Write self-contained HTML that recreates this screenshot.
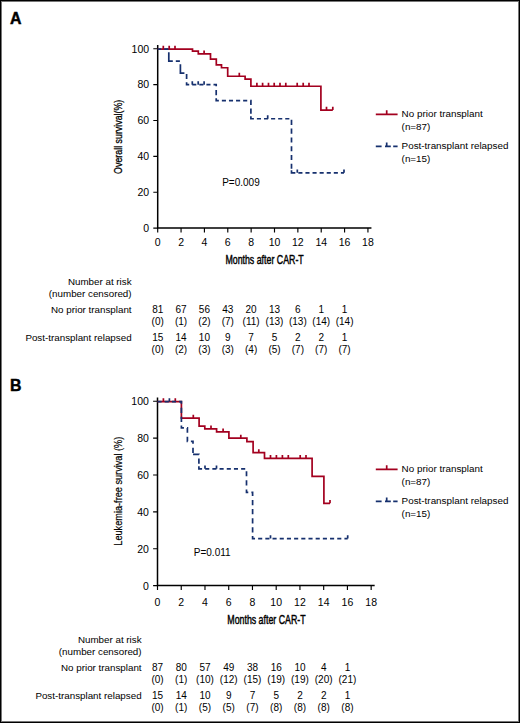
<!DOCTYPE html>
<html><head><meta charset="utf-8"><style>
html,body{margin:0;padding:0;background:#fff;}
svg{display:block;}
text{font-family:"Liberation Sans", sans-serif;fill:#000;}
.ct{stroke:#000;stroke-width:0.45px;}
</style></head><body>
<svg width="520" height="723" viewBox="0 0 520 723">
<rect x="0" y="0" width="520" height="723" fill="#fff"/>
<path d="M157.7,45 V228.1 H371.44" fill="none" stroke="#000" stroke-width="1.5"/>
<path d="M153.3,228.1 H157.7M153.3,192.22 H157.7M153.3,156.34 H157.7M153.3,120.46 H157.7M153.3,84.58 H157.7M153.3,48.7 H157.7M157.7,228.1 V232.5M181.06,228.1 V232.5M204.42,228.1 V232.5M227.78,228.1 V232.5M251.14,228.1 V232.5M274.5,228.1 V232.5M297.86,228.1 V232.5M321.22,228.1 V232.5M344.58,228.1 V232.5M367.94,228.1 V232.5" fill="none" stroke="#000" stroke-width="1.15"/>
<text x="149.1" y="232" text-anchor="end" font-size="10.5">0</text>
<text x="149.1" y="196.12" text-anchor="end" font-size="10.5">20</text>
<text x="149.1" y="160.24" text-anchor="end" font-size="10.5">40</text>
<text x="149.1" y="124.36" text-anchor="end" font-size="10.5">60</text>
<text x="149.1" y="88.48" text-anchor="end" font-size="10.5">80</text>
<text x="149.1" y="52.6" text-anchor="end" font-size="10.5">100</text>
<text x="157.7" y="246.2" text-anchor="middle" font-size="10.5">0</text>
<text x="181.06" y="246.2" text-anchor="middle" font-size="10.5">2</text>
<text x="204.42" y="246.2" text-anchor="middle" font-size="10.5">4</text>
<text x="227.78" y="246.2" text-anchor="middle" font-size="10.5">6</text>
<text x="251.14" y="246.2" text-anchor="middle" font-size="10.5">8</text>
<text x="274.5" y="246.2" text-anchor="middle" font-size="10.5">10</text>
<text x="297.86" y="246.2" text-anchor="middle" font-size="10.5">12</text>
<text x="321.22" y="246.2" text-anchor="middle" font-size="10.5">14</text>
<text x="344.58" y="246.2" text-anchor="middle" font-size="10.5">16</text>
<text x="367.94" y="246.2" text-anchor="middle" font-size="10.5">18</text>
<text x="225.4" y="264.2" font-size="12.4" textLength="78.3" lengthAdjust="spacingAndGlyphs" class="ct">Months after CAR-T</text>
<text transform="translate(122.1,136.8) rotate(-90)" x="0" y="0" text-anchor="middle" font-size="11.8" textLength="74.2" lengthAdjust="spacingAndGlyphs" stroke="#000" stroke-width="0.3">Overall survival(%)</text>
<g transform="translate(0,0.35)">
<path d="M157.7,48.7 L192.5,48.7 L192.5,50.7 L198.3,50.7 L198.3,53.6 L210.5,53.6 L210.5,58.7 L216.3,58.7 L216.3,64.5 L221.5,64.5 L221.5,67.4 L227.7,67.4 L227.7,75.9 L245.1,75.9 L245.1,78.8 L250.9,78.8 L250.9,85.9 L320.9,85.9 L320.9,109.7 L332.8,109.7" fill="none" stroke="#a3001f" stroke-width="1.7" stroke-linejoin="miter" stroke-linecap="butt"/>
<path d="M163.3,48.7 V45.3M169.2,48.7 V45.3M175,48.7 V45.3M204.1,53.6 V50.2M239.3,75.9 V72.5M256.9,85.9 V82.5M262.6,85.9 V82.5M268.5,85.9 V82.5M274.2,85.9 V82.5M280,85.9 V82.5M285.8,85.9 V82.5M297.2,85.9 V82.5M303.2,85.9 V82.5M309,85.9 V82.5M326.5,109.7 V106.3M332.8,109.7 V106.3" fill="none" stroke="#a3001f" stroke-width="1.7"/>
<path d="M157.7,48.7 L161.22,48.7M164.21,48.7 L168.31,48.7M168.8,51.8 L168.8,60.7 L172.81,60.7M175.8,60.7 L179.9,60.7M180.4,63.79 L180.4,72.7 L184.41,72.7M186.6,73.69 L186.6,78.77M186.6,81.82 L186.6,84.3 L189.23,84.3M192.22,84.3 L196.32,84.3M199.31,84.3 L203.41,84.3M206.4,84.3 L210.5,84.3M213.49,84.3 L216.2,84.3 L216.2,86.02M216.2,89.73 L216.2,94.82M216.2,97.82 L216.2,100.3 L218.87,100.3M221.86,100.3 L225.96,100.3M228.95,100.3 L233.05,100.3M236.04,100.3 L240.14,100.3M243.13,100.3 L247.23,100.3M250.22,100.3 L250.9,100.3 L250.9,104.54M250.9,108.24 L250.9,113.33M250.9,115.92 L250.9,118.4 L253.9,118.4M256.89,118.4 L260.99,118.4M263.98,118.4 L268.08,118.4M271.07,118.4 L275.17,118.4M278.16,118.4 L282.26,118.4M285.25,118.4 L289.35,118.4M291.5,119.44 L291.5,124.53M291.5,128.23 L291.5,133.32M291.5,137.03 L291.5,142.11M291.5,145.82 L291.5,150.9M291.5,154.61 L291.5,159.69M291.5,163.4 L291.5,168.48M291.5,170.02 L291.5,172.5 L295.35,172.5M298.34,172.5 L302.44,172.5M305.43,172.5 L309.53,172.5M312.52,172.5 L316.62,172.5M319.61,172.5 L323.71,172.5M326.7,172.5 L330.8,172.5M333.79,172.5 L337.89,172.5M340.88,172.5 L344,172.5" fill="none" stroke="#16306e" stroke-width="1.7" stroke-linejoin="miter"/>
<path d="M192.3,84.3 V80.9M198.2,84.3 V80.9M204.1,84.3 V80.9M267.7,118.4 V115M297.3,172.5 V169.1M344,172.5 V169.1" fill="none" stroke="#16306e" stroke-width="1.7"/>
</g>
<text x="222.2" y="185.7" font-size="10">P=0.009</text>
<path transform="translate(0,0.35)" d="M375.8,114 H397.6 M386.7,114 V109.8" fill="none" stroke="#a3001f" stroke-width="1.7"/>
<path transform="translate(0,0.35)" d="M375.8,146 H381.6 M385,146 H390.8 M393.2,146 H397.6 M386.7,146 V142.2" fill="none" stroke="#16306e" stroke-width="1.7"/>
<text x="401.6" y="117.4" font-size="9.87">No prior transplant</text>
<text x="401.6" y="129.6" font-size="9.87">(n=87)</text>
<text x="401.6" y="149.4" font-size="9.87">Post-transplant relapsed</text>
<text x="401.6" y="161.5" font-size="9.87">(n=15)</text>
<text x="10" y="23.7" font-size="15.9" font-weight="bold" stroke="#000" stroke-width="0.45" fill="#000">A</text>
<text x="131.6" y="285" text-anchor="end" font-size="9.8">Number at risk</text>
<text x="131.6" y="297" text-anchor="end" font-size="9.8">(number censored)</text>
<text x="131.6" y="312.6" text-anchor="end" font-size="9.8">No prior transplant</text>
<text x="131.6" y="340.7" text-anchor="end" font-size="9.8">Post-transplant relapsed</text>
<text x="157.7" y="313" text-anchor="middle" font-size="10">81</text>
<text x="181.06" y="313" text-anchor="middle" font-size="10">67</text>
<text x="204.42" y="313" text-anchor="middle" font-size="10">56</text>
<text x="227.78" y="313" text-anchor="middle" font-size="10">43</text>
<text x="251.14" y="313" text-anchor="middle" font-size="10">20</text>
<text x="274.5" y="313" text-anchor="middle" font-size="10">13</text>
<text x="297.86" y="313" text-anchor="middle" font-size="10">6</text>
<text x="321.22" y="313" text-anchor="middle" font-size="10">1</text>
<text x="344.58" y="313" text-anchor="middle" font-size="10">1</text>
<text x="157.7" y="325.3" text-anchor="middle" font-size="10">(0)</text>
<text x="181.06" y="325.3" text-anchor="middle" font-size="10">(1)</text>
<text x="204.42" y="325.3" text-anchor="middle" font-size="10">(2)</text>
<text x="227.78" y="325.3" text-anchor="middle" font-size="10">(7)</text>
<text x="251.14" y="325.3" text-anchor="middle" font-size="10">(11)</text>
<text x="274.5" y="325.3" text-anchor="middle" font-size="10">(13)</text>
<text x="297.86" y="325.3" text-anchor="middle" font-size="10">(13)</text>
<text x="321.22" y="325.3" text-anchor="middle" font-size="10">(14)</text>
<text x="344.58" y="325.3" text-anchor="middle" font-size="10">(14)</text>
<text x="157.7" y="340.8" text-anchor="middle" font-size="10">15</text>
<text x="181.06" y="340.8" text-anchor="middle" font-size="10">14</text>
<text x="204.42" y="340.8" text-anchor="middle" font-size="10">10</text>
<text x="227.78" y="340.8" text-anchor="middle" font-size="10">9</text>
<text x="251.14" y="340.8" text-anchor="middle" font-size="10">7</text>
<text x="274.5" y="340.8" text-anchor="middle" font-size="10">5</text>
<text x="297.86" y="340.8" text-anchor="middle" font-size="10">2</text>
<text x="321.22" y="340.8" text-anchor="middle" font-size="10">2</text>
<text x="344.58" y="340.8" text-anchor="middle" font-size="10">1</text>
<text x="157.7" y="353.1" text-anchor="middle" font-size="10">(0)</text>
<text x="181.06" y="353.1" text-anchor="middle" font-size="10">(2)</text>
<text x="204.42" y="353.1" text-anchor="middle" font-size="10">(3)</text>
<text x="227.78" y="353.1" text-anchor="middle" font-size="10">(3)</text>
<text x="251.14" y="353.1" text-anchor="middle" font-size="10">(4)</text>
<text x="274.5" y="353.1" text-anchor="middle" font-size="10">(5)</text>
<text x="297.86" y="353.1" text-anchor="middle" font-size="10">(7)</text>
<text x="321.22" y="353.1" text-anchor="middle" font-size="10">(7)</text>
<text x="344.58" y="353.1" text-anchor="middle" font-size="10">(7)</text>
<path d="M157.5,397.5 V585.6 H374.66" fill="none" stroke="#000" stroke-width="1.5"/>
<path d="M153.1,585.6 H157.5M153.1,548.72 H157.5M153.1,511.84 H157.5M153.1,474.96 H157.5M153.1,438.08 H157.5M153.1,401.2 H157.5M157.5,585.6 V590M181.24,585.6 V590M204.98,585.6 V590M228.72,585.6 V590M252.46,585.6 V590M276.2,585.6 V590M299.94,585.6 V590M323.68,585.6 V590M347.42,585.6 V590M371.16,585.6 V590" fill="none" stroke="#000" stroke-width="1.15"/>
<text x="148.9" y="589.5" text-anchor="end" font-size="10.5">0</text>
<text x="148.9" y="552.62" text-anchor="end" font-size="10.5">20</text>
<text x="148.9" y="515.74" text-anchor="end" font-size="10.5">40</text>
<text x="148.9" y="478.86" text-anchor="end" font-size="10.5">60</text>
<text x="148.9" y="441.98" text-anchor="end" font-size="10.5">80</text>
<text x="148.9" y="405.1" text-anchor="end" font-size="10.5">100</text>
<text x="157.5" y="605.9" text-anchor="middle" font-size="10.5">0</text>
<text x="181.24" y="605.9" text-anchor="middle" font-size="10.5">2</text>
<text x="204.98" y="605.9" text-anchor="middle" font-size="10.5">4</text>
<text x="228.72" y="605.9" text-anchor="middle" font-size="10.5">6</text>
<text x="252.46" y="605.9" text-anchor="middle" font-size="10.5">8</text>
<text x="276.2" y="605.9" text-anchor="middle" font-size="10.5">10</text>
<text x="299.94" y="605.9" text-anchor="middle" font-size="10.5">12</text>
<text x="323.68" y="605.9" text-anchor="middle" font-size="10.5">14</text>
<text x="347.42" y="605.9" text-anchor="middle" font-size="10.5">16</text>
<text x="371.16" y="605.9" text-anchor="middle" font-size="10.5">18</text>
<text x="227.3" y="623.8" font-size="12.4" textLength="78.3" lengthAdjust="spacingAndGlyphs" class="ct">Months after CAR-T</text>
<text transform="translate(122.3,491.2) rotate(-90)" x="0" y="0" text-anchor="middle" font-size="11.8" textLength="109" lengthAdjust="spacingAndGlyphs" stroke="#000" stroke-width="0.2">Leukemia-free survival (%)</text>
<g transform="translate(0,0.35)">
<path d="M157.5,401.2 L181.4,401.2 L181.4,417.7 L199.1,417.7 L199.1,425.8 L204.8,425.8 L204.8,428.5 L216.6,428.5 L216.6,431.5 L228.9,431.5 L228.9,437.8 L246.9,437.8 L246.9,441.2 L253.1,441.2 L253.1,452.3 L264.5,452.3 L264.5,458 L312.1,458 L312.1,476 L323.9,476 L323.9,503 L330,503" fill="none" stroke="#a3001f" stroke-width="1.7" stroke-linejoin="miter" stroke-linecap="butt"/>
<path d="M163.4,401.2 V397.8M175.3,401.2 V397.8M193.3,417.7 V414.3M211,428.5 V425.1M223.1,431.5 V428.1M240.8,437.8 V434.4M258.8,452.3 V448.9M270.5,458 V454.6M276.4,458 V454.6M282.4,458 V454.6M288.3,458 V454.6M300.2,458 V454.6M306,458 V454.6M330,503 V499.6" fill="none" stroke="#a3001f" stroke-width="1.7"/>
<path d="M157.5,401.2 L161.6,401.2M164.69,401.2 L168.79,401.2M171.88,401.2 L175.98,401.2M179.07,401.2 L181.4,401.2 L181.4,403.45M181.4,407.37 L181.4,412.58M181.4,416.5 L181.4,421.71M181.4,425.06 L181.4,427.6 L183.95,427.6M187.04,427.6 L187.4,427.6 L187.4,432.35M187.4,436.28 L187.4,441 L187.78,441M190.87,441 L193,441 L193,443.5M193,447.43 L193,452.63M193.05,454.1 L198.9,454.1 L198.9,454.27M198.9,458.2 L198.9,463.4M198.9,465.96 L198.9,468.5 L202.08,468.5M205.17,468.5 L209.27,468.5M212.36,468.5 L216.46,468.5M219.55,468.5 L223.65,468.5M226.74,468.5 L230.84,468.5M233.93,468.5 L238.03,468.5M241.12,468.5 L245.22,468.5M246.5,470.8 L246.5,476M246.5,479.93 L246.5,485.13M246.5,489.06 L246.5,492 L248.28,492M251.37,492 L252.6,492 L252.6,495.65M252.6,499.57 L252.6,504.78M252.6,508.71 L252.6,513.91M252.6,517.84 L252.6,523.04M252.6,526.97 L252.6,532.18M252.6,535.66 L252.6,538.2 L255.05,538.2M258.14,538.2 L262.24,538.2M265.33,538.2 L269.43,538.2M272.52,538.2 L276.62,538.2M279.71,538.2 L283.81,538.2M286.9,538.2 L291,538.2M294.09,538.2 L298.19,538.2M301.28,538.2 L305.38,538.2M308.47,538.2 L312.57,538.2M315.66,538.2 L319.76,538.2M322.85,538.2 L326.95,538.2M330.04,538.2 L334.14,538.2M337.23,538.2 L341.33,538.2M344.42,538.2 L347.7,538.2" fill="none" stroke="#16306e" stroke-width="1.7" stroke-linejoin="miter"/>
<path d="M169.4,401.2 V397.8M205,468.5 V465.1M216.5,468.5 V465.1M270.5,538.2 V534.8M347.7,538.2 V534.8" fill="none" stroke="#16306e" stroke-width="1.7"/>
</g>
<text x="193.8" y="555.8" font-size="10">P=0.011</text>
<path transform="translate(0,0.35)" d="M375.8,469 H397.6 M386.7,469 V464.8" fill="none" stroke="#a3001f" stroke-width="1.7"/>
<path transform="translate(0,0.35)" d="M375.8,501 H381.6 M385,501 H390.8 M393.2,501 H397.6 M386.7,501 V497.2" fill="none" stroke="#16306e" stroke-width="1.7"/>
<text x="401.6" y="472.4" font-size="9.87">No prior transplant</text>
<text x="401.6" y="484.6" font-size="9.87">(n=87)</text>
<text x="401.6" y="504.4" font-size="9.87">Post-transplant relapsed</text>
<text x="401.6" y="516.5" font-size="9.87">(n=15)</text>
<text x="10.1" y="390.6" font-size="15.9" font-weight="bold" stroke="#000" stroke-width="0.45" fill="#000">B</text>
<text x="141.6" y="643" text-anchor="end" font-size="9.8">Number at risk</text>
<text x="141.6" y="655" text-anchor="end" font-size="9.8">(number censored)</text>
<text x="141.6" y="670.6" text-anchor="end" font-size="9.8">No prior transplant</text>
<text x="141.6" y="698.7" text-anchor="end" font-size="9.8">Post-transplant relapsed</text>
<text x="157.5" y="671" text-anchor="middle" font-size="10">87</text>
<text x="181.24" y="671" text-anchor="middle" font-size="10">80</text>
<text x="204.98" y="671" text-anchor="middle" font-size="10">57</text>
<text x="228.72" y="671" text-anchor="middle" font-size="10">49</text>
<text x="252.46" y="671" text-anchor="middle" font-size="10">38</text>
<text x="276.2" y="671" text-anchor="middle" font-size="10">16</text>
<text x="299.94" y="671" text-anchor="middle" font-size="10">10</text>
<text x="323.68" y="671" text-anchor="middle" font-size="10">4</text>
<text x="347.42" y="671" text-anchor="middle" font-size="10">1</text>
<text x="157.5" y="683.3" text-anchor="middle" font-size="10">(0)</text>
<text x="181.24" y="683.3" text-anchor="middle" font-size="10">(1)</text>
<text x="204.98" y="683.3" text-anchor="middle" font-size="10">(10)</text>
<text x="228.72" y="683.3" text-anchor="middle" font-size="10">(12)</text>
<text x="252.46" y="683.3" text-anchor="middle" font-size="10">(15)</text>
<text x="276.2" y="683.3" text-anchor="middle" font-size="10">(19)</text>
<text x="299.94" y="683.3" text-anchor="middle" font-size="10">(19)</text>
<text x="323.68" y="683.3" text-anchor="middle" font-size="10">(20)</text>
<text x="347.42" y="683.3" text-anchor="middle" font-size="10">(21)</text>
<text x="157.5" y="698.8" text-anchor="middle" font-size="10">15</text>
<text x="181.24" y="698.8" text-anchor="middle" font-size="10">14</text>
<text x="204.98" y="698.8" text-anchor="middle" font-size="10">10</text>
<text x="228.72" y="698.8" text-anchor="middle" font-size="10">9</text>
<text x="252.46" y="698.8" text-anchor="middle" font-size="10">7</text>
<text x="276.2" y="698.8" text-anchor="middle" font-size="10">5</text>
<text x="299.94" y="698.8" text-anchor="middle" font-size="10">2</text>
<text x="323.68" y="698.8" text-anchor="middle" font-size="10">2</text>
<text x="347.42" y="698.8" text-anchor="middle" font-size="10">1</text>
<text x="157.5" y="711.1" text-anchor="middle" font-size="10">(0)</text>
<text x="181.24" y="711.1" text-anchor="middle" font-size="10">(1)</text>
<text x="204.98" y="711.1" text-anchor="middle" font-size="10">(5)</text>
<text x="228.72" y="711.1" text-anchor="middle" font-size="10">(5)</text>
<text x="252.46" y="711.1" text-anchor="middle" font-size="10">(7)</text>
<text x="276.2" y="711.1" text-anchor="middle" font-size="10">(8)</text>
<text x="299.94" y="711.1" text-anchor="middle" font-size="10">(8)</text>
<text x="323.68" y="711.1" text-anchor="middle" font-size="10">(8)</text>
<text x="347.42" y="711.1" text-anchor="middle" font-size="10">(8)</text>
<rect x="0.5" y="0.5" width="519" height="722" fill="none" stroke="#000" stroke-width="1"/>
<rect x="1.5" y="1.5" width="517" height="720" fill="none" stroke="#777" stroke-width="1"/>
</svg>
</body></html>
